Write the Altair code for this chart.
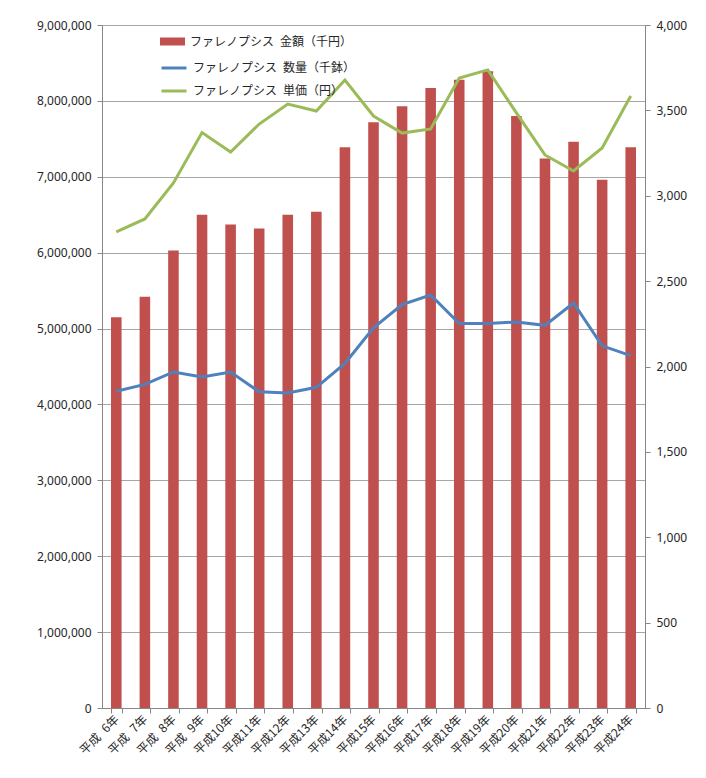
import altair as alt
import pandas as pd

years = ["平成\u20076年", "平成\u20077年", "平成\u20078年", "平成\u20079年", "平成10年", "平成11年",
         "平成12年", "平成13年", "平成14年", "平成15年", "平成16年", "平成17年",
         "平成18年", "平成19年", "平成20年", "平成21年", "平成22年", "平成23年", "平成24年"]
amount = [5150000, 5420000, 6030000, 6500000, 6370000, 6320000, 6500000, 6540000,
          7390000, 7720000, 7930000, 8170000, 8280000, 8390000, 7800000, 7240000,
          7460000, 6960000, 7390000]
quantity = [1855, 1895, 1968, 1938, 1968, 1852, 1845, 1878, 2018, 2226, 2362, 2419,
            2252, 2252, 2261, 2241, 2372, 2121, 2064]
price = [2788, 2864, 3075, 3370, 3256, 3420, 3537, 3496, 3678, 3467, 3367, 3391,
         3690, 3737, 3485, 3239, 3145, 3280, 3584]

s_amount = "ファレノプシス\u2002金額（千円）"
s_qty = "ファレノプシス\u2002数量（千鉢）"
s_price = "ファレノプシス\u2002単価（円）"

bar_df = pd.DataFrame({"year": years, "value": amount, "series": s_amount})
line_df = pd.concat([
    pd.DataFrame({"year": years, "value": quantity, "series": s_qty}),
    pd.DataFrame({"year": years, "value": price, "series": s_price}),
])

FONT_NUM = "Noto Sans"
FONT_JP = "Noto Sans CJK JP"
GRID = "#a6a6a6"
AX = "#868686"
TXT = "#262626"

xenc = alt.X("year:N", sort=years, title=None,
             scale=alt.Scale(paddingInner=0.63, paddingOuter=0.315),
             axis=alt.Axis(labelAngle=-45, labelAlign="right", labelBaseline="middle",
                           tickBand="extent", labelFont=FONT_JP, labelFontSize=12,
                           labelColor=TXT, domainColor=AX, tickColor=AX, tickSize=5,
                           labelPadding=4, grid=False))

bars = alt.Chart(bar_df).mark_bar(color="#C0504D").encode(
    x=xenc,
    y=alt.Y("value:Q", title=None,
            scale=alt.Scale(domain=[0, 9000000], nice=False),
            axis=alt.Axis(orient="left", values=list(range(0, 9000001, 1000000)),
                          format=",.0f", grid=True, gridColor=GRID, domainColor=AX,
                          tickColor=AX, tickSize=5, labelFont=FONT_NUM,
                          labelFontSize=12, labelColor=TXT, labelPadding=6)),
    fill=alt.Fill("series:N", title=None,
                  scale=alt.Scale(domain=[s_amount], range=["#C0504D"]),
                  legend=alt.Legend(orient="none", legendX=58, legendY=4,
                                    symbolType="M-1,-0.32H1V0.32H-1Z", symbolSize=625,
                                    symbolStrokeWidth=0, labelFont=FONT_JP,
                                    labelFontSize=12, labelColor=TXT, labelOffset=5,
                                    padding=0, rowPadding=0, labelLimit=300)),
)

lines = alt.Chart(line_df).mark_line(strokeWidth=3).encode(
    x=alt.X("year:N", sort=years),
    y=alt.Y("value:Q", title=None,
            scale=alt.Scale(domain=[0, 4000], nice=False),
            axis=alt.Axis(orient="right", values=list(range(0, 4001, 500)),
                          format=",.0f", grid=False, domainColor=AX, tickColor=AX,
                          tickSize=5, labelFont=FONT_NUM, labelFontSize=12,
                          labelColor=TXT, labelPadding=6)),
    stroke=alt.Stroke("series:N", title=None,
                      scale=alt.Scale(domain=[s_qty, s_price],
                                      range=["#4F81BD", "#9BBB59"]),
                      legend=alt.Legend(orient="none", legendX=58, legendY=29,
                                        symbolType="stroke", symbolSize=625,
                                        symbolStrokeWidth=3, labelFont=FONT_JP,
                                        labelFontSize=12, labelColor=TXT,
                                        labelOffset=5, padding=0, rowPadding=3,
                                        labelLimit=300)),
)

chart = alt.layer(bars, lines).resolve_scale(
    y="independent", fill="independent", stroke="independent"
).properties(
    width=543, height=683,
    autosize=alt.AutoSizeParams(type="none"),
    padding={"left": 94, "top": 17, "right": 53, "bottom": 56},
    background="white",
).configure_view(stroke=None)

chart.save("out.html", embed_options={"renderer": "svg", "actions": False})
